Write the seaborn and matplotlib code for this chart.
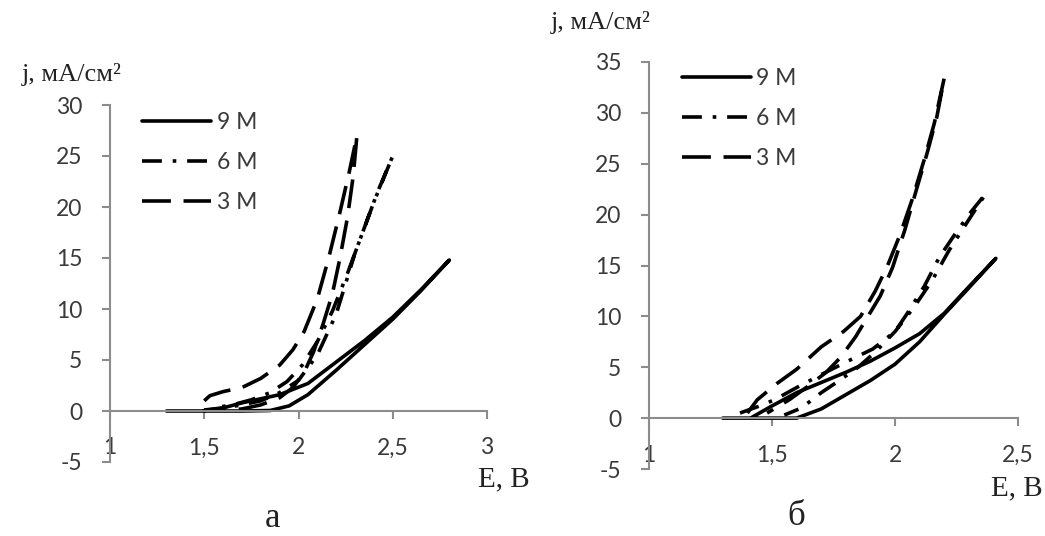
import numpy as np
import pandas as pd
import matplotlib.pyplot as plt
import seaborn as sns

sns.set_theme(style="white")
plt.rcParams['font.family'] = 'Lato'

#%% data, panel а (E, B / j, мА/см2) - each loop: forward branch then back
a_E_9 = [1.30, 1.50, 1.70, 1.85, 1.95, 2.05, 2.20, 2.35, 2.50, 2.65, 2.80,
         2.65, 2.50, 2.35, 2.20, 2.05, 1.90, 1.80, 1.70, 1.60, 1.50]
a_j_9 = [0, 0, 0, 0.05, 0.5, 1.6, 4.0, 6.5, 9.0, 11.8, 14.8,
         11.9, 9.2, 6.9, 4.8, 2.7, 1.6, 1.2, 0.8, 0.3, 0.05]

a_E_6 = [1.50, 1.60, 1.70, 1.80, 1.90, 2.00, 2.10, 2.20, 2.30, 2.40, 2.50,
         2.42, 2.34, 2.26, 2.18, 2.10, 2.02, 1.94, 1.85, 1.75, 1.65, 1.55]
a_j_6 = [0.1, 0.3, 0.6, 1.0, 1.8, 3.0, 5.5, 9.5, 15.5, 20.5, 25.0,
         21.5, 17.5, 13.5, 9.8, 6.8, 4.5, 2.9, 1.8, 1.1, 0.6, 0.3]

a_E_3 = [1.50, 1.53, 1.60, 1.70, 1.80, 1.90, 1.97, 2.03, 2.10, 2.16, 2.22, 2.27, 2.31,
         2.29, 2.26, 2.22, 2.18, 2.13, 2.08, 2.03, 1.97, 1.90, 1.80, 1.70, 1.60]
a_j_3 = [1.0, 1.5, 1.9, 2.3, 3.2, 4.5, 6.0, 7.8, 11.0, 15.0, 19.5, 23.5, 27.0,
         23.0, 19.0, 15.0, 11.5, 8.5, 5.8, 3.8, 2.3, 1.3, 0.6, 0.2, 0.05]

#%% data, panel б
b_E_9 = [1.30, 1.45, 1.60, 1.70, 1.80, 1.90, 2.00, 2.10, 2.20, 2.30, 2.41,
         2.30, 2.20, 2.10, 2.00, 1.90, 1.80, 1.70, 1.60, 1.50, 1.42]
b_j_9 = [0, 0, 0, 0.9, 2.3, 3.7, 5.3, 7.5, 10.2, 12.8, 15.7,
         12.9, 10.3, 8.3, 6.9, 5.6, 4.5, 3.5, 2.5, 1.2, 0.1]

b_E_6 = [1.37, 1.45, 1.51, 1.60, 1.71, 1.80, 1.91, 2.00, 2.05, 2.12, 2.18, 2.25, 2.31, 2.37,
         2.30, 2.22, 2.15, 2.08, 2.00, 1.92, 1.85, 1.78, 1.70, 1.62, 1.55]
b_j_6 = [0.5, 1.2, 1.8, 3.0, 4.4, 5.5, 6.8, 8.5, 10.3, 13.0, 15.8, 18.3, 20.3, 22.1,
         19.5, 16.5, 13.5, 11.0, 8.5, 6.5, 5.0, 3.8, 2.5, 1.0, 0.3]

b_E_3 = [1.40, 1.44, 1.52, 1.60, 1.70, 1.79, 1.86, 1.92, 1.97, 2.02, 2.07, 2.12, 2.16, 2.20,
         2.17, 2.13, 2.09, 2.04, 1.99, 1.94, 1.89, 1.84, 1.78, 1.72, 1.65, 1.57, 1.48]
b_j_3 = [0.5, 1.8, 3.4, 4.8, 7.0, 8.5, 10.0, 12.5, 15.0, 18.0, 21.5, 25.5, 29.0, 33.4,
         29.6, 26.0, 22.7, 18.5, 14.8, 12.0, 10.0, 8.0, 6.0, 4.5, 3.2, 1.8, 0.5]

labels = ["9 M", "6 M", "3 M"]
a_xticks = [1, 1.5, 2, 2.5, 3]
b_xticks = [1, 1.5, 2, 2.5]
a_yticks = [-5, 0, 5, 10, 15, 20, 25, 30]
b_yticks = [-5, 0, 5, 10, 15, 20, 25, 30, 35]

#%% figure
W, H = 1045, 536
fig = plt.figure(figsize=(W / 100, H / 100), dpi=100)

def px_axes(l, t, r, b):
    return fig.add_axes([l / W, 1 - b / H, (r - l) / W, (b - t) / H])

ax_a = px_axes(110, 105, 487, 462)
ax_b = px_axes(649, 62, 1018, 469)

styles = ["-", (0, (5.5, 3, 1, 3)), (0, (8, 3.5))]
grey = "#8c8c8c"
tick_col = "#3a3a3a"

def draw(ax, series, xticks, yticks, ylim, leg_anchor):
    for (E, j), ls, lab in zip(series, styles, labels):
        sns.lineplot(x=E, y=j, sort=False, estimator=None, ax=ax,
                     color="black", lw=2.6, linestyle=ls, label=lab,
                     legend=False)
    ax.set_xlim(xticks[0], xticks[-1])
    ax.set_ylim(*ylim)
    ax.set_xticks(xticks)
    ax.set_xticklabels([f"{t:g}".replace(".", ",") for t in xticks])
    ax.set_yticks(yticks)
    ax.set_yticklabels([str(t) for t in yticks])
    ax.set_xlabel("")
    ax.set_ylabel("")
    for s in ["top", "right"]:
        ax.spines[s].set_visible(False)
    ax.spines["bottom"].set_position(("data", 0))
    for s in ["left", "bottom"]:
        ax.spines[s].set_color(grey)
        ax.spines[s].set_linewidth(1.5)
    ax.tick_params(axis="x", direction="out", length=6, width=1.5, color=grey,
                   pad=13, labelsize=16.5, labelcolor=tick_col, bottom=True)
    ax.tick_params(axis="y", direction="out", length=6, width=1.5, color=grey,
                   pad=14, labelsize=16.5, labelcolor=tick_col, left=True)
    ax.set_facecolor("none")
    ax.legend(loc="upper left", bbox_to_anchor=leg_anchor, frameon=False,
              fontsize=16.5, handlelength=3.0, handletextpad=0.25,
              labelspacing=0.83, borderpad=0, borderaxespad=0,
              labelcolor=tick_col)

draw(ax_a, [(a_E_9, a_j_9), (a_E_6, a_j_6), (a_E_3, a_j_3)],
     a_xticks, a_yticks, (-5, 30), (0.085, 0.981))
draw(ax_b, [(b_E_9, b_j_9), (b_E_6, b_j_6), (b_E_3, b_j_3)],
     b_xticks, b_yticks, (-5, 35), (0.089, 0.985))

serif = "Liberation Serif"
def ftext(x, y, s, size, **kw):
    fig.text(x / W, 1 - y / H, s, fontsize=size, family=serif,
             color="#222222", **kw)

ftext(72, 75, "j, мА/см²", 19, ha="center", va="center")
ftext(601, 23, "j, мА/см²", 19, ha="center", va="center")
ftext(504, 479, "E, B", 21, ha="center", va="center")
ftext(1017, 488, "E, B", 21, ha="center", va="center")
ftext(272, 527, "а", 25, ha="center", va="baseline")
ftext(796, 525, "б", 25, ha="center", va="baseline")

fig.savefig("out.png", dpi=100, facecolor="white")
